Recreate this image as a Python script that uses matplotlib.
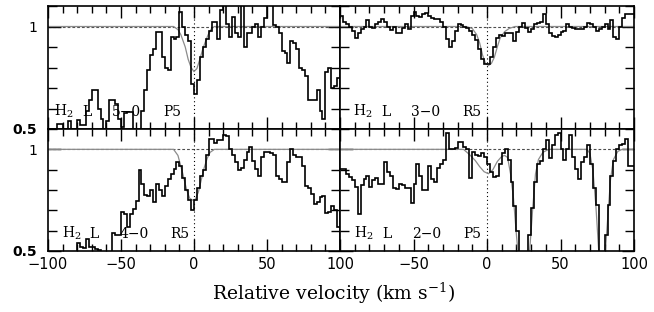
"""
H2 Lyman lines: normalised flux vs relative velocity, 2x2 panels.
"""
import numpy as np
import matplotlib.pyplot as plt
import matplotlib.transforms as mtransforms
from matplotlib.ticker import MultipleLocator, FuncFormatter

plt.rcParams.update({
    "font.family": "DejaVu Serif",
    "mathtext.fontset": "dejavuserif",
    "axes.linewidth": 1.2,
})

# bin edges, 2 km/s bins from -100 to 100
EDGES = np.arange(-100, 101, 2)

FLUX_50P5 = [
    0.50, 0.50, 0.50, 0.525, 0.525, 0.50, 0.50, 0.54, 0.50, 0.50,
    0.545, 0.52, 0.52, 0.59, 0.64, 0.69, 0.69, 0.60, 0.55, 0.50,
    0.54, 0.64, 0.64, 0.62, 0.55, 0.51, 0.58, 0.585, 0.585, 0.50,
    0.49, 0.49, 0.59, 0.69, 0.79, 0.86, 0.89, 0.975, 0.975, 0.85,
    0.80, 0.79, 0.95, 0.94, 0.95, 1.07, 1.00, 0.96, 0.93, 0.72,
    0.67, 0.74, 0.85, 0.90, 0.94, 0.98, 1.02, 1.02, 0.94, 1.08,
    1.12, 1.01, 0.95, 1.045, 0.97, 0.95, 1.12, 0.90, 0.97, 0.97,
    1.00, 1.01, 0.95, 1.00, 1.04, 1.12, 1.12, 1.005, 1.00, 0.97,
    0.88, 0.87, 0.82, 0.93, 0.92, 0.89, 0.80, 0.79, 0.76, 0.64,
    0.64, 0.64, 0.69, 0.59, 0.55, 0.78, 0.80, 0.70, 0.71, 0.75,
]
FLUX_30R5 = [
    1.05, 1.02, 1.01, 1.00, 0.98, 0.945, 0.97, 0.99, 1.00, 1.03,
    1.00, 0.995, 1.01, 1.02, 1.035, 1.02, 1.00, 0.985, 1.00, 0.97,
    0.97, 0.995, 1.01, 0.99, 1.05, 1.07, 1.05, 1.045, 1.06, 1.065,
    1.05, 1.04, 1.035, 1.035, 1.02, 1.00, 0.94, 0.90, 0.93, 0.98,
    1.01, 1.005, 1.00, 0.995, 0.98, 0.96, 0.935, 0.89, 0.84, 0.815,
    0.815, 0.85, 0.90, 0.945, 0.96, 0.955, 0.97, 0.97, 0.97, 0.93,
    0.975, 1.00, 1.015, 0.995, 0.975, 0.99, 1.01, 1.015, 1.02, 1.06,
    1.01, 0.97, 0.955, 0.95, 0.96, 0.975, 0.98, 1.01, 1.00, 0.995,
    0.99, 0.99, 0.99, 1.00, 1.015, 1.01, 1.00, 0.98, 0.99, 1.00,
    1.01, 0.99, 1.03, 0.95, 0.94, 1.00, 1.04, 1.06, 1.06, 1.06,
]
FLUX_40R5 = [
    0.40, 0.40, 0.40, 0.40, 0.40, 0.40, 0.40, 0.40, 0.45, 0.45,
    0.54, 0.52, 0.515, 0.56, 0.52, 0.52, 0.51, 0.505, 0.48, 0.45,
    0.45, 0.47, 0.59, 0.58, 0.58, 0.69, 0.68, 0.62, 0.68, 0.705,
    0.745, 0.90, 0.83, 0.775, 0.77, 0.80, 0.74, 0.83, 0.80, 0.77,
    0.82, 0.855, 0.88, 0.905, 0.94, 0.92, 0.86, 0.80, 0.75, 0.70,
    0.75, 0.81, 0.87, 0.90, 0.97, 1.05, 1.05, 1.03, 1.045, 1.045,
    1.07, 1.065, 1.00, 0.97, 0.94, 0.90, 0.91, 0.95, 0.985, 1.01,
    0.945, 0.905, 0.87, 0.96, 0.985, 0.985, 0.98, 0.97, 0.87, 0.855,
    0.84, 0.84, 0.94, 1.00, 0.97, 0.96, 0.96, 0.92, 0.82, 0.81,
    0.78, 0.73, 0.74, 0.765, 0.77, 0.685, 0.69, 0.72, 0.70, 0.62,
]
FLUX_20P5 = [
    0.905, 0.905, 0.88, 0.865, 0.85, 0.815, 0.68, 0.825, 0.855, 0.87,
    0.815, 0.85, 0.86, 0.83, 0.83, 0.94, 0.89, 0.87, 0.81, 0.805,
    0.83, 0.825, 0.81, 0.81, 0.735, 0.83, 0.93, 0.87, 0.80, 0.80,
    0.92, 0.855, 0.84, 0.91, 0.93, 0.95, 1.08, 1.00, 1.00, 1.005,
    1.035, 1.035, 1.01, 1.00, 0.86, 0.985, 0.97, 0.965, 0.98, 0.96,
    0.93, 0.89, 0.865, 0.87, 0.93, 0.98, 1.00, 0.95, 0.84, 0.72,
    0.60, 0.45, 0.40, 0.40, 0.58, 0.71, 0.84, 0.93, 0.945, 1.00,
    1.045, 0.955, 1.02, 1.07, 1.08, 1.00, 0.946, 1.00, 1.07, 0.96,
    0.905, 0.855, 0.94, 0.96, 1.02, 0.93, 0.81, 0.725, 0.45, 0.40,
    0.58, 0.725, 0.87, 0.945, 1.00, 1.02, 1.025, 1.05, 0.92, 0.92,
]

# fitted profiles (grey)
MOD_50P5_V = [-100, -14, -11, -9, -6, -4, -2, 0, 2, 4, 6, 8, 10, 12, 14, 100]
MOD_50P5_F = [1, 1, 0.985, 0.96, 0.9, 0.84, 0.8, 0.78, 0.795, 0.84, 0.89, 0.93, 0.965, 0.99, 1, 1]
MOD_30R5_V = [-100, -14, -10, -7, -5, -3, -1, 1, 3, 5, 7, 9, 12, 15, 19, 100]
MOD_30R5_F = [1, 1, 0.99, 0.96, 0.92, 0.86, 0.82, 0.81, 0.82, 0.85, 0.9, 0.945, 0.975, 0.99, 1, 1]
MOD_40R5_V = [-100, -14, -11, -8, -5, -3, -1, 1, 3, 5, 7, 9, 11, 14, 100]
MOD_40R5_F = [1, 1, 0.97, 0.89, 0.8, 0.76, 0.75, 0.755, 0.79, 0.85, 0.91, 0.955, 0.985, 1, 1]
MOD_20P5_V = [-100, -16, -12, -8, -5, -2, 1, 4, 7, 10, 12, 14, 16, 18, 20, 22, 27, 29, 31,
              33, 35, 38, 42, 68, 70, 72, 74, 76, 78, 80, 82, 84, 86, 89, 92, 100]
MOD_20P5_F = [1, 1, 0.975, 0.945, 0.915, 0.89, 0.88, 0.9, 0.94, 0.965, 0.97, 0.96, 0.88, 0.76,
              0.58, 0.42, 0.38, 0.5, 0.7, 0.88, 0.95, 0.985, 1, 1, 0.98, 0.9, 0.73, 0.5, 0.38,
              0.45, 0.65, 0.85, 0.95, 0.99, 1, 1]

# panel labels, split in the words of the transition name
LABELS = [["H$_2$", "L", "5\u22120", "P5"], ["H$_2$", "L", "3\u22120", "R5"],
          ["H$_2$", "L", "4\u22120", "R5"], ["H$_2$", "L", "2\u22120", "P5"]]
LABEL_X = [-95.7, -91, -90.6, -90.4]
WORD_OFFSETS = [0, 28, 58, 109]     # pixels from the label start
YTICKS = [0.5, 1.0]
YTICK_LABELS = ["0.5", "1"]

W, H = 654, 312
X0, XM, X1 = 48, 340, 634
Y0, YM, Y1 = 6, 129, 251


def frac_box(x0, x1, ytop, ybot):
    return [x0 / W, 1 - ybot / H, (x1 - x0) / W, (ybot - ytop) / H]


def main():
    fig = plt.figure(figsize=(W / 100, H / 100), dpi=100)
    boxes = [frac_box(X0, XM, Y0, YM), frac_box(XM, X1, Y0, YM),
             frac_box(X0, XM, YM, Y1), frac_box(XM, X1, YM, Y1)]
    fluxes = [FLUX_50P5, FLUX_30R5, FLUX_40R5, FLUX_20P5]
    models = [(MOD_50P5_V, MOD_50P5_F), (MOD_30R5_V, MOD_30R5_F),
              (MOD_40R5_V, MOD_40R5_F), (MOD_20P5_V, MOD_20P5_F)]

    for i, (box, flux, (mv, mf)) in enumerate(zip(boxes, fluxes, models)):
        ax = fig.add_axes(box)
        ax.axhline(1.0, color="0.3", lw=0.8, ls=(0, (2.5, 1.8)), zorder=1)
        ax.axvline(0.0, color="k", lw=0.8, ls=(0, (1, 2.5)), zorder=1)
        ax.plot(mv, mf, color="0.55", lw=0.9, zorder=2)
        ax.stairs(flux, EDGES, baseline=None, color="k", lw=1.2, zorder=3)
        for word, dx in zip(LABELS[i], WORD_OFFSETS):
            tr = mtransforms.offset_copy(ax.transData, fig=fig, x=dx, y=0, units="dots")
            ax.text(LABEL_X[i], 0.565, word, fontsize=10, va="baseline",
                    transform=tr, zorder=4)

        ax.set_xlim(-100, 100)
        ax.set_ylim(0.5, 1.1)
        ax.xaxis.set_major_locator(MultipleLocator(50))
        ax.xaxis.set_minor_locator(MultipleLocator(10))
        ax.set_yticks(YTICKS, labels=YTICK_LABELS)
        ax.yaxis.set_minor_locator(MultipleLocator(0.1))
        ax.tick_params(which="both", direction="in", top=True, right=True, width=1.0)
        ax.tick_params(axis="x", which="major", length=8.5, pad=4.5)
        ax.tick_params(axis="x", which="minor", length=5)
        ax.tick_params(axis="y", which="major", length=9, pad=8)
        ax.tick_params(axis="y", which="minor", length=6.5)

        if i == 3:
            ax.xaxis.set_major_formatter(FuncFormatter(
                lambda x, _: "" if x <= -100 else f"{x:.0f}".replace("-", "\u2212")))
        for lab in ax.get_xticklabels():
            lab.set_fontfamily("DejaVu Sans")
            lab.set_fontsize(10.5)
        for lab in ax.get_yticklabels():
            lab.set_fontfamily("DejaVu Sans")
            lab.set_fontsize(10)
            if lab.get_text() == "0.5":
                lab.set_fontweight("bold")

        if i < 2:
            ax.tick_params(axis="x", labelbottom=False)
        if i % 2 == 1:
            ax.tick_params(axis="y", labelleft=False)

    fig.text(334 / W, 1 - 293 / H, "Relative velocity (km s$^{-1}$)",
             ha="center", va="center", fontsize=13.5)

    plt.savefig("out.png", dpi=100)


if __name__ == "__main__":
    main()
